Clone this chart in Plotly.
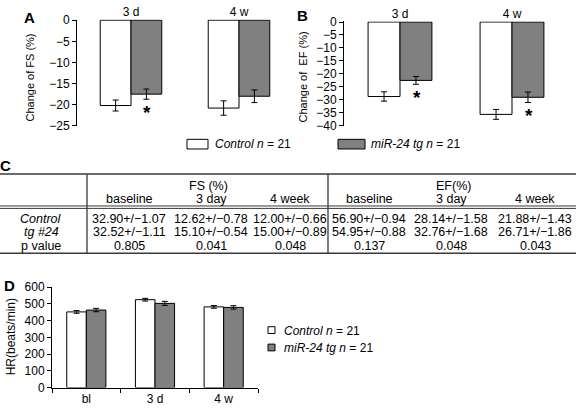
import plotly.graph_objects as go

# ---------------- data ----------------
timepoints_AB = ["3 d", "4 w"]
fs_control = [-20.2, -20.8]
fs_control_err = [1.3, 1.7]
fs_tg = [-17.5, -18.0]
fs_tg_err = [1.2, 1.5]
fs_sig = [True, False]

ef_control = [-28.7, -35.6]
ef_control_err = [1.8, 1.9]
ef_tg = [-22.5, -29.0]
ef_tg_err = [1.5, 2.0]
ef_sig = [True, True]

hr_cats = ["bl", "3 d", "4 w"]
hr_control = [452, 525, 482]
hr_control_err = [8, 8, 8]
hr_tg = [463, 503, 479]
hr_tg_err = [10, 12, 10]

legend_control = "<i>Control n</i> = 21"
legend_tg = "<i>miR-24 tg n</i> = 21"

table_groups = ["FS (%)", "EF(%)"]
table_cols = ["baseline", "3 day", "4 week", "baseline", "3 day", "4 week"]
table_rows = ["<i>Control</i>", "<i>tg #24</i>", "p value"]
row_control = ["32.90+/\u22121.07", "12.62+/\u22120.78", "12.00+/\u22120.66",
               "56.90+/\u22120.94", "28.14+/\u22121.58", "21.88+/\u22121.43"]
row_tg = ["32.52+/\u22121.11", "15.10+/\u22120.54", "15.00+/\u22120.89",
          "54.95+/\u22120.88", "32.76+/\u22121.68", "26.71+/\u22121.86"]
row_p = ["0.805", "0.041", "0.048", "0.137", "0.048", "0.043"]

# ---------------- helpers ----------------
W, H = 576, 411
def px(x): return x / W
def py(y): return 1 - y / H

FONT = '"Liberation Sans", Arial, Helvetica, sans-serif'
GRAY = "#808080"
LINE = "#3a3a3a"

def ctrl_marker(): return dict(color="white", line=dict(color="black", width=1))
def tg_marker(): return dict(color=GRAY, line=dict(color="black", width=1))
def err(a): return dict(type="data", array=a, color="black", thickness=1, width=3)

fig = go.Figure()

# Panel A
fig.add_trace(go.Bar(x=timepoints_AB, y=fs_control, error_y=err(fs_control_err),
                     marker=ctrl_marker(), xaxis="x", yaxis="y", showlegend=False))
fig.add_trace(go.Bar(x=timepoints_AB, y=fs_tg, error_y=err(fs_tg_err),
                     marker=tg_marker(), xaxis="x", yaxis="y", showlegend=False))
# Panel B
fig.add_trace(go.Bar(x=timepoints_AB, y=ef_control, error_y=err(ef_control_err),
                     marker=ctrl_marker(), xaxis="x2", yaxis="y2", showlegend=False))
fig.add_trace(go.Bar(x=timepoints_AB, y=ef_tg, error_y=err(ef_tg_err),
                     marker=tg_marker(), xaxis="x2", yaxis="y2", showlegend=False))
# Panel D
fig.add_trace(go.Bar(x=hr_cats, y=hr_control, error_y=err(hr_control_err),
                     marker=ctrl_marker(), xaxis="x3", yaxis="y3", showlegend=False))
fig.add_trace(go.Bar(x=hr_cats, y=hr_tg, error_y=err(hr_tg_err),
                     marker=tg_marker(), xaxis="x3", yaxis="y3", showlegend=False))

tickfont = dict(family=FONT, size=12, color="black")
top_x = dict(side="top", showline=False, ticks="", showgrid=False, zeroline=False,
             range=[-0.5, 1.5], tickfont=tickfont, fixedrange=True)
left_y = dict(showline=True, linecolor="black", linewidth=1, ticks="outside",
              ticklen=4, tickcolor="black", showgrid=False, zeroline=False,
              tickfont=tickfont)

fig.update_layout(
    width=W, height=H, margin=dict(l=0, r=0, t=0, b=0),
    paper_bgcolor="white", plot_bgcolor="white",
    barmode="group", bargap=0.43, bargroupgap=0,
    font=dict(family=FONT, size=12, color="black"),
    xaxis=dict(domain=[px(77), px(293)], anchor="y", **top_x),
    yaxis=dict(domain=[py(123), py(13)], anchor="x", range=[-25, 0.15],
               tickvals=[0, -5, -10, -15, -20, -25], **left_y),
    xaxis2=dict(domain=[px(344), px(568)], anchor="y2", **top_x),
    yaxis2=dict(domain=[py(123), py(15)], anchor="x2", range=[-40, 0.2],
                tickvals=list(range(0, -45, -5)), **left_y),
    xaxis3=dict(domain=[px(52), px(258)], anchor="y3", showline=True,
                linecolor="black", ticks="outside", ticklen=4, tickcolor="black",
                tickson="boundaries", showgrid=False, zeroline=False,
                range=[-0.5, 2.5], tickfont=tickfont),
    yaxis3=dict(domain=[py(394), py(290)], anchor="x3", range=[0, 600],
                dtick=100, **left_y),
)

ann = []
def text(x, y, s, size=12, xanchor="center", angle=0, color="black"):
    ann.append(dict(x=px(x), y=py(y), xref="paper", yref="paper", text=s,
                    showarrow=False, xanchor=xanchor, yanchor="middle",
                    textangle=angle,
                    font=dict(family=FONT, size=size, color=color)))

# panel letters
text(29, 11, "<b>A</b>", size=15)
text(302, 9, "<b>B</b>", size=15)
text(5, 164, "<b>C</b>", size=15)
text(9, 288, "<b>D</b>", size=15)

# axis titles
text(30, 73, "Change of FS (%)", size=11, angle=-90)
text(303, 73, "Change of  EF (%)", size=11, angle=-90)
text(11, 342, "HR(beats/min)", size=12, angle=-90)

# significance asterisks
for xref, yref, cats, vals, errs, sig in [("x", "y", timepoints_AB, fs_tg, fs_tg_err, fs_sig),
                                          ("x2", "y2", timepoints_AB, ef_tg, ef_tg_err, ef_sig)]:
    for i, c in enumerate(cats):
        if sig[i]:
            ann.append(dict(x=i + 0.15, y=vals[i] - errs[i], xref=xref, yref=yref,
                            text="<b>*</b>", showarrow=False, yanchor="top",
                            xanchor="center", yshift=-1,
                            font=dict(family=FONT, size=19, color="black")))

shapes = []
def line(x0, y0, x1, y1, color=LINE, width=1):
    shapes.append(dict(type="line", xref="paper", yref="paper",
                       x0=px(x0), y0=py(y0), x1=px(x1), y1=py(y1),
                       line=dict(color=color, width=width)))
def rect(x0, y0, x1, y1, fill):
    shapes.append(dict(type="rect", xref="paper", yref="paper",
                       x0=px(x0), y0=py(y0), x1=px(x1), y1=py(y1),
                       fillcolor=fill, line=dict(color="black", width=1)))

# top legend
rect(187, 137, 208, 147, "white")
text(213, 142, legend_control, size=12, xanchor="left")
rect(338, 137, 365, 147, GRAY)
text(369, 142, legend_tg, size=12, xanchor="left")

# D legend
rect(268, 331, 275, 338, "white")
text(282, 335, legend_control, size=12, xanchor="left")
rect(268, 349, 275, 356, GRAY)
text(282, 353, legend_tg, size=12, xanchor="left")

# table
t_top, t_bot = 173, 255
line(0, t_top, 576, t_top, width=1.5)
line(0, 206, 576, 206)
line(0, 208.5, 576, 208.5)
line(0, t_bot, 576, t_bot, width=1.5)
line(87, t_top, 87, t_bot, width=1.3)
line(328, t_top, 328, t_bot, width=1.3)

TS = 12.5
text(208, 185, table_groups[0], size=TS)
text(453, 185, table_groups[1], size=TS)
col_x = [129, 211, 290, 369, 451, 535]
for hx, h in zip(col_x, table_cols):
    text(hx, 199, h, size=TS)
row_y = [219, 233, 247]
for ry, lab, vals in zip(row_y, table_rows, [row_control, row_tg, row_p]):
    text(41, ry, lab, size=TS)
    for vx, v in zip(col_x, vals):
        text(vx, ry, v, size=TS)

fig.update_layout(annotations=ann, shapes=shapes)
fig.write_html("out.html",
               config={"displayModeBar": False},
               post_script="document.body.style.margin='0px';document.body.style.padding='0px';")
